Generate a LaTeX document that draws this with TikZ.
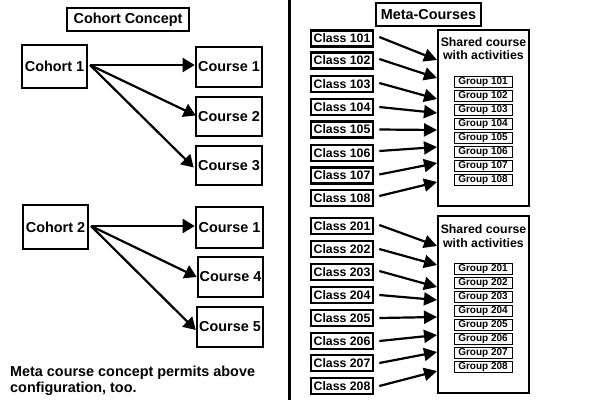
\documentclass[tikz,border=0pt]{standalone}
\usepackage{fontspec}
\setmainfont{Liberation Sans}
\usetikzlibrary{arrows.meta,calc}
\tikzset{
  box/.style={draw,line width=2.6pt,inner sep=0pt,font=\fontsize{14.4}{16}\selectfont\bfseries},
  clbox/.style={draw,line width=2.6pt,inner sep=0pt,minimum width=62pt,minimum height=16pt,font=\fontsize{12.3}{14}\selectfont\bfseries},
  grbox/.style={draw,line width=1pt,inner sep=0pt,minimum width=58pt,minimum height=11pt,font=\fontsize{10}{11}\selectfont\bfseries},
  shbox/.style={draw,line width=2.6pt,inner sep=0pt,minimum width=91pt},
  arr/.style={line width=2.2pt,-{Triangle[length=12pt,width=14pt]}},
  carr/.style={line width=2.2pt,-{Triangle[length=13pt,width=13pt]}},
}
\begin{document}
\begin{tikzpicture}[x=1pt,y=-1pt]
\useasboundingbox[fill=white] (0,0) rectangle (600,400);
% divider
\coordinate (dtop) at (289,0);
\coordinate (dbot) at (289,400);
\draw[line width=3pt] (dtop) -- (dbot);
% left panel
\node[box,minimum width=122pt,minimum height=23pt] (t1) at (128,19.5) {Cohort Concept};
\node[box,minimum width=65pt,minimum height=43pt] (c1) at (54.5,66.5) {Cohort 1};
\node[box,minimum width=66pt,minimum height=40pt] (co1) at (229,67) {Course 1};
\node[box,minimum width=66pt,minimum height=39pt] (co2) at (229,116.5) {Course 2};
\node[box,minimum width=66pt,minimum height=39pt] (co3) at (229,165.5) {Course 3};
\node[box,minimum width=65pt,minimum height=44pt] (c2) at (55.5,227) {Cohort 2};
\node[box,minimum width=67pt,minimum height=41pt] (cob) at (229.5,227.5) {Course 1};
\node[box,minimum width=65pt,minimum height=40pt] (co4) at (230.5,277) {Course 4};
\node[box,minimum width=66pt,minimum height=40pt] (co5) at (230,327) {Course 5};
\coordinate (s1) at (90,65);
\coordinate (s2) at (91,226);
\draw[arr] (s1) -- (co1.west|-s1);
\draw[arr] (s1) -- ($(co2.west)+(1,-1)$);
\draw[arr] (s1) -- ($(co3.west)+(-1,2)$);
\draw[arr] (s2) -- (cob.west|-s2);
\draw[arr] (s2) -- (co4.west);
\draw[arr] (s2) -- ($(co5.west)+(0,3)$);
\node[anchor=north west,align=left,inner sep=0pt,font=\fontsize{14.4}{16}\selectfont\bfseries] (note) at (10,366) {Meta course concept permits above\\configuration, too.};
% right panel
\node[box,minimum width=105pt,minimum height=23pt] (t2) at (428.5,14.5) {Meta-Courses};
% first block
\node[shbox,minimum height=176pt] (sh1) at (483.5,118) {};
\node[align=center,inner sep=0pt,font=\fontsize{12.3}{13.5}\selectfont\bfseries] (sht1) at (483.5,48.5) {Shared course\\with activities};
\foreach \n/\yc/\yg/\ye [count=\i] in {101/38.5/82/60,102/60.5/96/78,103/84/110/99,104/107/124/113,105/129.5/138/130,106/153/152/147,107/175.5/166/163,108/198/180/182}{
  \node[clbox] (cl\n) at (342,\yc) {Class \n};
  \node[grbox] (gr\n) at (483,\yg) {Group \n};
  \coordinate (e\n) at (437,\ye);
}
\draw[carr] ([xshift=5pt,yshift=1.5pt]cl101.east) -- (e101);
\draw[carr] ([xshift=5pt,yshift=1.5pt]cl102.east) -- (e102);
\draw[carr] ([xshift=5pt,yshift=1pt]cl103.east) -- (e103);
\draw[carr] ([xshift=5pt]cl104.east) -- (e104);
\draw[carr] ([xshift=5pt]cl105.east) -- (e105);
\draw[carr] ([xshift=5pt,yshift=2pt]cl106.east) -- (e106);
\draw[carr] ([xshift=5pt,yshift=1pt]cl107.east) -- (e107);
\draw[carr] ([xshift=5pt,yshift=2pt]cl108.east) -- (e108);
% second block
\node[shbox,minimum height=177pt] (sh2) at (483.5,304.5) {};
\node[align=center,inner sep=0pt,font=\fontsize{12.3}{13.5}\selectfont\bfseries] (sht2) at (483.5,236) {Shared course\\with activities};
\foreach \n/\yc/\yg/\ye [count=\i] in {201/226/269/246,202/249/283/265,203/272/297/287,204/295/311/300,205/318/325/317,206/341/339/335,207/363/353/352,208/386/367/371}{
  \node[clbox] (cl\n) at (342,\yc) {Class \n};
  \node[grbox] (gr\n) at (483,\yg) {Group \n};
  \coordinate (e\n) at (437,\ye);
}
\draw[carr] ([xshift=5pt,yshift=1pt]cl201.east) -- (e201);
\draw[carr] ([xshift=5pt]cl202.east) -- (e202);
\draw[carr] ([xshift=5pt,yshift=1pt]cl203.east) -- (e203);
\draw[carr] ([xshift=5pt]cl204.east) -- (e204);
\draw[carr] ([xshift=5pt]cl205.east) -- (e205);
\draw[carr] ([xshift=5pt]cl206.east) -- (e206);
\draw[carr] ([xshift=5pt]cl207.east) -- (e207);
\draw[carr] ([xshift=5pt]cl208.east) -- (e208);
\end{tikzpicture}
\end{document}
